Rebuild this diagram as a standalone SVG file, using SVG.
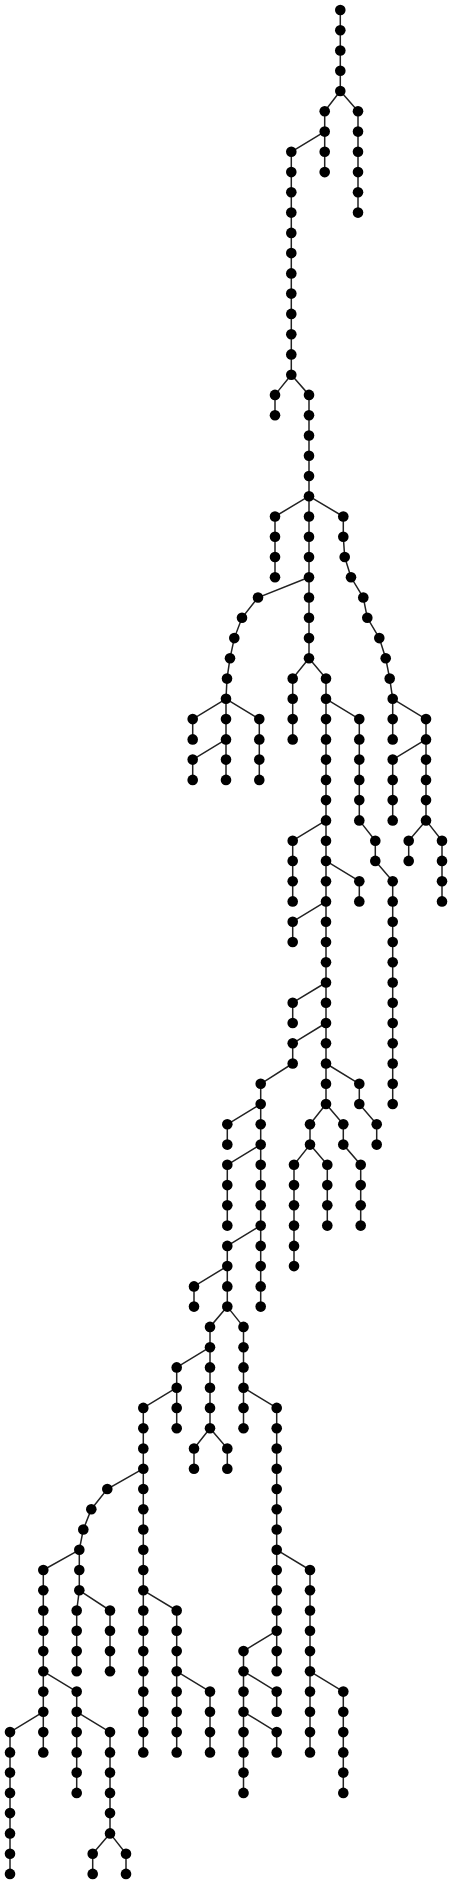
<svg xmlns="http://www.w3.org/2000/svg" xmlns:xlink="http://www.w3.org/1999/xlink" width="452" height="1885" viewBox="0 0 452 1885">
<style>
.edges path{fill:none;stroke:#222;stroke-width:1.5}
.dot{fill:#000}
</style>
<defs><circle id="d" class="dot" cx="0" cy="0" r="5.3"/></defs>
<rect width="452" height="1885" fill="#fff"/>
<g class="edges" id="connectors">
<path d="M340.3 10V91M340.3 91L324.7 111.3M340.3 91L358 111.3"/>
<path d="M324.7 111.3V172.1M324.7 131.6L291.3 151.8M358 111.3V212.6"/>
<path d="M291.3 151.8V374.7M291.3 374.7L275 394.9V415.2M291.3 374.7L309 394.9V496.2"/>
<path d="M309 496.2L275 516.5V577.3M309 496.2V658.3"/>
<path d="M309 496.2L343.3 516.5L343.3 536.8L344.7 557L351 577.3L363.3 597.5L367.3 617.8L379.3 638.1L385.7 658.3L389.7 678.6L392.7 698.8"/>
<path d="M309 577.3L258 597.5L242 617.8L234.3 638.1L230 658.3L227 678.6L226 698.8"/>
<path d="M226 698.8L192.7 719.1V739.4M226 698.8V779.9M226 739.4L192.7 759.6V779.9M226 698.8L259.3 719.1V779.9"/>
<path d="M392.7 698.8V739.4M392.7 698.8L426 719.1V820.4M426 739.4L392.7 759.6V820.4M426 820.4L408.7 840.7V860.9M426 820.4L442 840.7V901.4"/>
<path d="M309 658.3L292.7 678.6V739.4M309 658.3L326 678.6V1104"/>
<path d="M326 698.8L359.3 719.1V820.4M359.3 820.4L375.3 840.7V860.9L392.7 881.2V1104"/>
<path d="M326 820.4L292.7 840.7V901.4M326 860.9L359.3 881.2V901.4M326 901.4L292.7 921.7V942M326 982.5L292.7 1002.7V1023"/>
<path d="M326 1023L292.7 1043.3V1063.5L260.7 1083.8V1306.6"/>
<path d="M326 1063.5L359.3 1083.8V1104L376.7 1124.3V1144.6"/>
<path d="M326 1104L310 1124.3V1144.6M326 1104L343.3 1124.3V1144.6L360.7 1164.8V1225.6"/>
<path d="M310 1144.6L294 1164.8V1266.1M310 1144.6L327.3 1164.8V1225.6"/>
<path d="M260.7 1104L227.3 1124.3V1144.6M260.7 1144.6L227.3 1164.8V1225.6M260.7 1225.6L227.3 1245.9V1306.6"/>
<path d="M227.3 1266.1L194 1286.4V1306.6M227.3 1306.6L210 1326.9V1428.2M227.3 1306.6L243.5 1326.9V1428.2"/>
<path d="M210 1347.2L176.7 1367.4V1428.2M210 1428.2L194 1448.5V1468.7M210 1428.2L227.3 1448.5V1468.7"/>
<path d="M176.7 1387.7L143.3 1407.9V1752.4M243.5 1387.7L276.7 1407.9V1671.3"/>
<path d="M143.3 1468.7L107.3 1489L91.3 1509.2L83.3 1529.5L79.3 1549.8V1590.3"/>
<path d="M79.3 1549.8L43.3 1570V1752.4M79.3 1590.3L76.7 1610.5V1671.3M79.3 1590.3L110 1610.5V1671.3"/>
<path d="M43.3 1671.3L76.7 1691.6V1792.9M43.3 1711.8L10 1732.1V1873.9M76.7 1711.8L110 1732.1V1833.4M110 1833.4L92.7 1853.7V1873.9M110 1833.4L126 1853.7V1873.9"/>
<path d="M143.3 1590.3L176.7 1610.5V1752.4M176.7 1671.3L210 1691.6V1752.4"/>
<path d="M276.7 1549.8L310 1570V1752.4M310 1671.3L343.3 1691.6V1792.9"/>
<path d="M276.7 1630.8L243.5 1651.1V1792.9M243.5 1671.3L276.7 1691.6V1711.8M243.5 1711.8L276.7 1732.1V1752.4"/>
</g>
<g id="nodes">
<g id="n1"><use xlink:href="#d" x="340.3" y="10"/></g>
<g id="n2"><use xlink:href="#d" x="340.3" y="30.3"/></g>
<g id="n3"><use xlink:href="#d" x="340.3" y="50.5"/></g>
<g id="n4"><use xlink:href="#d" x="340.3" y="70.8"/></g>
<g id="n5"><use xlink:href="#d" x="340.3" y="91"/></g>
<g id="n6"><use xlink:href="#d" x="324.7" y="111.3"/></g>
<g id="n7"><use xlink:href="#d" x="324.7" y="131.6"/></g>
<g id="n8"><use xlink:href="#d" x="324.7" y="151.8"/></g>
<g id="n9"><use xlink:href="#d" x="324.7" y="172.1"/></g>
<g id="n10"><use xlink:href="#d" x="358" y="111.3"/></g>
<g id="n11"><use xlink:href="#d" x="358" y="131.6"/></g>
<g id="n12"><use xlink:href="#d" x="358" y="151.8"/></g>
<g id="n13"><use xlink:href="#d" x="358" y="172.1"/></g>
<g id="n14"><use xlink:href="#d" x="358" y="192.3"/></g>
<g id="n15"><use xlink:href="#d" x="358" y="212.6"/></g>
<g id="n16"><use xlink:href="#d" x="291.3" y="151.8"/></g>
<g id="n17"><use xlink:href="#d" x="291.3" y="172.1"/></g>
<g id="n18"><use xlink:href="#d" x="291.3" y="192.3"/></g>
<g id="n19"><use xlink:href="#d" x="291.3" y="212.6"/></g>
<g id="n20"><use xlink:href="#d" x="291.3" y="232.9"/></g>
<g id="n21"><use xlink:href="#d" x="291.3" y="253.1"/></g>
<g id="n22"><use xlink:href="#d" x="291.3" y="273.4"/></g>
<g id="n23"><use xlink:href="#d" x="291.3" y="293.6"/></g>
<g id="n24"><use xlink:href="#d" x="291.3" y="313.9"/></g>
<g id="n25"><use xlink:href="#d" x="291.3" y="334.2"/></g>
<g id="n26"><use xlink:href="#d" x="291.3" y="354.4"/></g>
<g id="n27"><use xlink:href="#d" x="291.3" y="374.7"/></g>
<g id="n28"><use xlink:href="#d" x="275" y="394.9"/></g>
<g id="n29"><use xlink:href="#d" x="275" y="415.2"/></g>
<g id="n30"><use xlink:href="#d" x="309" y="394.9"/></g>
<g id="n31"><use xlink:href="#d" x="309" y="415.2"/></g>
<g id="n32"><use xlink:href="#d" x="309" y="435.5"/></g>
<g id="n33"><use xlink:href="#d" x="309" y="455.7"/></g>
<g id="n34"><use xlink:href="#d" x="309" y="476"/></g>
<g id="n35"><use xlink:href="#d" x="309" y="496.2"/></g>
<g id="n36"><use xlink:href="#d" x="309" y="516.5"/></g>
<g id="n37"><use xlink:href="#d" x="309" y="536.8"/></g>
<g id="n38"><use xlink:href="#d" x="309" y="557"/></g>
<g id="n39"><use xlink:href="#d" x="309" y="577.3"/></g>
<g id="n40"><use xlink:href="#d" x="309" y="597.5"/></g>
<g id="n41"><use xlink:href="#d" x="309" y="617.8"/></g>
<g id="n42"><use xlink:href="#d" x="309" y="638.1"/></g>
<g id="n43"><use xlink:href="#d" x="309" y="658.3"/></g>
<g id="n44"><use xlink:href="#d" x="275" y="516.5"/></g>
<g id="n45"><use xlink:href="#d" x="275" y="536.8"/></g>
<g id="n46"><use xlink:href="#d" x="275" y="557"/></g>
<g id="n47"><use xlink:href="#d" x="275" y="577.3"/></g>
<g id="n48"><use xlink:href="#d" x="343.3" y="516.5"/></g>
<g id="n49"><use xlink:href="#d" x="343.3" y="536.8"/></g>
<g id="n50"><use xlink:href="#d" x="344.7" y="557"/></g>
<g id="n51"><use xlink:href="#d" x="351" y="577.3"/></g>
<g id="n52"><use xlink:href="#d" x="363.3" y="597.5"/></g>
<g id="n53"><use xlink:href="#d" x="367.3" y="617.8"/></g>
<g id="n54"><use xlink:href="#d" x="379.3" y="638.1"/></g>
<g id="n55"><use xlink:href="#d" x="385.7" y="658.3"/></g>
<g id="n56"><use xlink:href="#d" x="389.7" y="678.6"/></g>
<g id="n57"><use xlink:href="#d" x="392.7" y="698.8"/></g>
<g id="n58"><use xlink:href="#d" x="258" y="597.5"/></g>
<g id="n59"><use xlink:href="#d" x="242" y="617.8"/></g>
<g id="n60"><use xlink:href="#d" x="234.3" y="638.1"/></g>
<g id="n61"><use xlink:href="#d" x="230" y="658.3"/></g>
<g id="n62"><use xlink:href="#d" x="227" y="678.6"/></g>
<g id="n63"><use xlink:href="#d" x="226" y="698.8"/></g>
<g id="n64"><use xlink:href="#d" x="192.7" y="719.1"/></g>
<g id="n65"><use xlink:href="#d" x="192.7" y="739.4"/></g>
<g id="n66"><use xlink:href="#d" x="226" y="719.1"/></g>
<g id="n67"><use xlink:href="#d" x="226" y="739.4"/></g>
<g id="n68"><use xlink:href="#d" x="226" y="759.6"/></g>
<g id="n69"><use xlink:href="#d" x="226" y="779.9"/></g>
<g id="n70"><use xlink:href="#d" x="192.7" y="759.6"/></g>
<g id="n71"><use xlink:href="#d" x="192.7" y="779.9"/></g>
<g id="n72"><use xlink:href="#d" x="259.3" y="719.1"/></g>
<g id="n73"><use xlink:href="#d" x="259.3" y="739.4"/></g>
<g id="n74"><use xlink:href="#d" x="259.3" y="759.6"/></g>
<g id="n75"><use xlink:href="#d" x="259.3" y="779.9"/></g>
<g id="n76"><use xlink:href="#d" x="392.7" y="719.1"/></g>
<g id="n77"><use xlink:href="#d" x="392.7" y="739.4"/></g>
<g id="n78"><use xlink:href="#d" x="426" y="719.1"/></g>
<g id="n79"><use xlink:href="#d" x="426" y="739.4"/></g>
<g id="n80"><use xlink:href="#d" x="426" y="759.6"/></g>
<g id="n81"><use xlink:href="#d" x="426" y="779.9"/></g>
<g id="n82"><use xlink:href="#d" x="426" y="800.1"/></g>
<g id="n83"><use xlink:href="#d" x="426" y="820.4"/></g>
<g id="n84"><use xlink:href="#d" x="392.7" y="759.6"/></g>
<g id="n85"><use xlink:href="#d" x="392.7" y="779.9"/></g>
<g id="n86"><use xlink:href="#d" x="392.7" y="800.1"/></g>
<g id="n87"><use xlink:href="#d" x="392.7" y="820.4"/></g>
<g id="n88"><use xlink:href="#d" x="408.7" y="840.7"/></g>
<g id="n89"><use xlink:href="#d" x="408.7" y="860.9"/></g>
<g id="n90"><use xlink:href="#d" x="442" y="840.7"/></g>
<g id="n91"><use xlink:href="#d" x="442" y="860.9"/></g>
<g id="n92"><use xlink:href="#d" x="442" y="881.2"/></g>
<g id="n93"><use xlink:href="#d" x="442" y="901.4"/></g>
<g id="n94"><use xlink:href="#d" x="292.7" y="678.6"/></g>
<g id="n95"><use xlink:href="#d" x="292.7" y="698.8"/></g>
<g id="n96"><use xlink:href="#d" x="292.7" y="719.1"/></g>
<g id="n97"><use xlink:href="#d" x="292.7" y="739.4"/></g>
<g id="n98"><use xlink:href="#d" x="326" y="678.6"/></g>
<g id="n99"><use xlink:href="#d" x="326" y="698.8"/></g>
<g id="n100"><use xlink:href="#d" x="326" y="719.1"/></g>
<g id="n101"><use xlink:href="#d" x="326" y="739.4"/></g>
<g id="n102"><use xlink:href="#d" x="326" y="759.6"/></g>
<g id="n103"><use xlink:href="#d" x="326" y="779.9"/></g>
<g id="n104"><use xlink:href="#d" x="326" y="800.1"/></g>
<g id="n105"><use xlink:href="#d" x="326" y="820.4"/></g>
<g id="n106"><use xlink:href="#d" x="326" y="840.7"/></g>
<g id="n107"><use xlink:href="#d" x="326" y="860.9"/></g>
<g id="n108"><use xlink:href="#d" x="326" y="881.2"/></g>
<g id="n109"><use xlink:href="#d" x="326" y="901.4"/></g>
<g id="n110"><use xlink:href="#d" x="326" y="921.7"/></g>
<g id="n111"><use xlink:href="#d" x="326" y="942"/></g>
<g id="n112"><use xlink:href="#d" x="326" y="962.2"/></g>
<g id="n113"><use xlink:href="#d" x="326" y="982.5"/></g>
<g id="n114"><use xlink:href="#d" x="326" y="1002.7"/></g>
<g id="n115"><use xlink:href="#d" x="326" y="1023"/></g>
<g id="n116"><use xlink:href="#d" x="326" y="1043.3"/></g>
<g id="n117"><use xlink:href="#d" x="326" y="1063.5"/></g>
<g id="n118"><use xlink:href="#d" x="326" y="1083.8"/></g>
<g id="n119"><use xlink:href="#d" x="326" y="1104"/></g>
<g id="n120"><use xlink:href="#d" x="359.3" y="719.1"/></g>
<g id="n121"><use xlink:href="#d" x="359.3" y="739.4"/></g>
<g id="n122"><use xlink:href="#d" x="359.3" y="759.6"/></g>
<g id="n123"><use xlink:href="#d" x="359.3" y="779.9"/></g>
<g id="n124"><use xlink:href="#d" x="359.3" y="800.1"/></g>
<g id="n125"><use xlink:href="#d" x="359.3" y="820.4"/></g>
<g id="n126"><use xlink:href="#d" x="375.3" y="840.7"/></g>
<g id="n127"><use xlink:href="#d" x="375.3" y="860.9"/></g>
<g id="n128"><use xlink:href="#d" x="392.7" y="881.2"/></g>
<g id="n129"><use xlink:href="#d" x="392.7" y="901.4"/></g>
<g id="n130"><use xlink:href="#d" x="392.7" y="921.7"/></g>
<g id="n131"><use xlink:href="#d" x="392.7" y="942"/></g>
<g id="n132"><use xlink:href="#d" x="392.7" y="962.2"/></g>
<g id="n133"><use xlink:href="#d" x="392.7" y="982.5"/></g>
<g id="n134"><use xlink:href="#d" x="392.7" y="1002.7"/></g>
<g id="n135"><use xlink:href="#d" x="392.7" y="1023"/></g>
<g id="n136"><use xlink:href="#d" x="392.7" y="1043.3"/></g>
<g id="n137"><use xlink:href="#d" x="392.7" y="1063.5"/></g>
<g id="n138"><use xlink:href="#d" x="392.7" y="1083.8"/></g>
<g id="n139"><use xlink:href="#d" x="392.7" y="1104"/></g>
<g id="n140"><use xlink:href="#d" x="292.7" y="840.7"/></g>
<g id="n141"><use xlink:href="#d" x="292.7" y="860.9"/></g>
<g id="n142"><use xlink:href="#d" x="292.7" y="881.2"/></g>
<g id="n143"><use xlink:href="#d" x="292.7" y="901.4"/></g>
<g id="n144"><use xlink:href="#d" x="359.3" y="881.2"/></g>
<g id="n145"><use xlink:href="#d" x="359.3" y="901.4"/></g>
<g id="n146"><use xlink:href="#d" x="292.7" y="921.7"/></g>
<g id="n147"><use xlink:href="#d" x="292.7" y="942"/></g>
<g id="n148"><use xlink:href="#d" x="292.7" y="1002.7"/></g>
<g id="n149"><use xlink:href="#d" x="292.7" y="1023"/></g>
<g id="n150"><use xlink:href="#d" x="292.7" y="1043.3"/></g>
<g id="n151"><use xlink:href="#d" x="292.7" y="1063.5"/></g>
<g id="n152"><use xlink:href="#d" x="260.7" y="1083.8"/></g>
<g id="n153"><use xlink:href="#d" x="260.7" y="1104"/></g>
<g id="n154"><use xlink:href="#d" x="260.7" y="1124.3"/></g>
<g id="n155"><use xlink:href="#d" x="260.7" y="1144.6"/></g>
<g id="n156"><use xlink:href="#d" x="260.7" y="1164.8"/></g>
<g id="n157"><use xlink:href="#d" x="260.7" y="1185.1"/></g>
<g id="n158"><use xlink:href="#d" x="260.7" y="1205.3"/></g>
<g id="n159"><use xlink:href="#d" x="260.7" y="1225.6"/></g>
<g id="n160"><use xlink:href="#d" x="260.7" y="1245.9"/></g>
<g id="n161"><use xlink:href="#d" x="260.7" y="1266.1"/></g>
<g id="n162"><use xlink:href="#d" x="260.7" y="1286.4"/></g>
<g id="n163"><use xlink:href="#d" x="260.7" y="1306.6"/></g>
<g id="n164"><use xlink:href="#d" x="359.3" y="1083.8"/></g>
<g id="n165"><use xlink:href="#d" x="359.3" y="1104"/></g>
<g id="n166"><use xlink:href="#d" x="376.7" y="1124.3"/></g>
<g id="n167"><use xlink:href="#d" x="376.7" y="1144.6"/></g>
<g id="n168"><use xlink:href="#d" x="310" y="1124.3"/></g>
<g id="n169"><use xlink:href="#d" x="310" y="1144.6"/></g>
<g id="n170"><use xlink:href="#d" x="343.3" y="1124.3"/></g>
<g id="n171"><use xlink:href="#d" x="343.3" y="1144.6"/></g>
<g id="n172"><use xlink:href="#d" x="360.7" y="1164.8"/></g>
<g id="n173"><use xlink:href="#d" x="360.7" y="1185.1"/></g>
<g id="n174"><use xlink:href="#d" x="360.7" y="1205.3"/></g>
<g id="n175"><use xlink:href="#d" x="360.7" y="1225.6"/></g>
<g id="n176"><use xlink:href="#d" x="294" y="1164.8"/></g>
<g id="n177"><use xlink:href="#d" x="294" y="1185.1"/></g>
<g id="n178"><use xlink:href="#d" x="294" y="1205.3"/></g>
<g id="n179"><use xlink:href="#d" x="294" y="1225.6"/></g>
<g id="n180"><use xlink:href="#d" x="294" y="1245.9"/></g>
<g id="n181"><use xlink:href="#d" x="294" y="1266.1"/></g>
<g id="n182"><use xlink:href="#d" x="327.3" y="1164.8"/></g>
<g id="n183"><use xlink:href="#d" x="327.3" y="1185.1"/></g>
<g id="n184"><use xlink:href="#d" x="327.3" y="1205.3"/></g>
<g id="n185"><use xlink:href="#d" x="327.3" y="1225.6"/></g>
<g id="n186"><use xlink:href="#d" x="227.3" y="1124.3"/></g>
<g id="n187"><use xlink:href="#d" x="227.3" y="1144.6"/></g>
<g id="n188"><use xlink:href="#d" x="227.3" y="1164.8"/></g>
<g id="n189"><use xlink:href="#d" x="227.3" y="1185.1"/></g>
<g id="n190"><use xlink:href="#d" x="227.3" y="1205.3"/></g>
<g id="n191"><use xlink:href="#d" x="227.3" y="1225.6"/></g>
<g id="n192"><use xlink:href="#d" x="227.3" y="1245.9"/></g>
<g id="n193"><use xlink:href="#d" x="227.3" y="1266.1"/></g>
<g id="n194"><use xlink:href="#d" x="227.3" y="1286.4"/></g>
<g id="n195"><use xlink:href="#d" x="227.3" y="1306.6"/></g>
<g id="n196"><use xlink:href="#d" x="194" y="1286.4"/></g>
<g id="n197"><use xlink:href="#d" x="194" y="1306.6"/></g>
<g id="n198"><use xlink:href="#d" x="210" y="1326.9"/></g>
<g id="n199"><use xlink:href="#d" x="210" y="1347.2"/></g>
<g id="n200"><use xlink:href="#d" x="210" y="1367.4"/></g>
<g id="n201"><use xlink:href="#d" x="210" y="1387.7"/></g>
<g id="n202"><use xlink:href="#d" x="210" y="1407.9"/></g>
<g id="n203"><use xlink:href="#d" x="210" y="1428.2"/></g>
<g id="n204"><use xlink:href="#d" x="243.5" y="1326.9"/></g>
<g id="n205"><use xlink:href="#d" x="243.5" y="1347.2"/></g>
<g id="n206"><use xlink:href="#d" x="243.5" y="1367.4"/></g>
<g id="n207"><use xlink:href="#d" x="243.5" y="1387.7"/></g>
<g id="n208"><use xlink:href="#d" x="243.5" y="1407.9"/></g>
<g id="n209"><use xlink:href="#d" x="243.5" y="1428.2"/></g>
<g id="n210"><use xlink:href="#d" x="176.7" y="1367.4"/></g>
<g id="n211"><use xlink:href="#d" x="176.7" y="1387.7"/></g>
<g id="n212"><use xlink:href="#d" x="176.7" y="1407.9"/></g>
<g id="n213"><use xlink:href="#d" x="176.7" y="1428.2"/></g>
<g id="n214"><use xlink:href="#d" x="194" y="1448.5"/></g>
<g id="n215"><use xlink:href="#d" x="194" y="1468.7"/></g>
<g id="n216"><use xlink:href="#d" x="227.3" y="1448.5"/></g>
<g id="n217"><use xlink:href="#d" x="227.3" y="1468.7"/></g>
<g id="n218"><use xlink:href="#d" x="143.3" y="1407.9"/></g>
<g id="n219"><use xlink:href="#d" x="143.3" y="1428.2"/></g>
<g id="n220"><use xlink:href="#d" x="143.3" y="1448.5"/></g>
<g id="n221"><use xlink:href="#d" x="143.3" y="1468.7"/></g>
<g id="n222"><use xlink:href="#d" x="143.3" y="1489"/></g>
<g id="n223"><use xlink:href="#d" x="143.3" y="1509.2"/></g>
<g id="n224"><use xlink:href="#d" x="143.3" y="1529.5"/></g>
<g id="n225"><use xlink:href="#d" x="143.3" y="1549.8"/></g>
<g id="n226"><use xlink:href="#d" x="143.3" y="1570"/></g>
<g id="n227"><use xlink:href="#d" x="143.3" y="1590.3"/></g>
<g id="n228"><use xlink:href="#d" x="143.3" y="1610.5"/></g>
<g id="n229"><use xlink:href="#d" x="143.3" y="1630.8"/></g>
<g id="n230"><use xlink:href="#d" x="143.3" y="1651.1"/></g>
<g id="n231"><use xlink:href="#d" x="143.3" y="1671.3"/></g>
<g id="n232"><use xlink:href="#d" x="143.3" y="1691.6"/></g>
<g id="n233"><use xlink:href="#d" x="143.3" y="1711.8"/></g>
<g id="n234"><use xlink:href="#d" x="143.3" y="1732.1"/></g>
<g id="n235"><use xlink:href="#d" x="143.3" y="1752.4"/></g>
<g id="n236"><use xlink:href="#d" x="276.7" y="1407.9"/></g>
<g id="n237"><use xlink:href="#d" x="276.7" y="1428.2"/></g>
<g id="n238"><use xlink:href="#d" x="276.7" y="1448.5"/></g>
<g id="n239"><use xlink:href="#d" x="276.7" y="1468.7"/></g>
<g id="n240"><use xlink:href="#d" x="276.7" y="1489"/></g>
<g id="n241"><use xlink:href="#d" x="276.7" y="1509.2"/></g>
<g id="n242"><use xlink:href="#d" x="276.7" y="1529.5"/></g>
<g id="n243"><use xlink:href="#d" x="276.7" y="1549.8"/></g>
<g id="n244"><use xlink:href="#d" x="276.7" y="1570"/></g>
<g id="n245"><use xlink:href="#d" x="276.7" y="1590.3"/></g>
<g id="n246"><use xlink:href="#d" x="276.7" y="1610.5"/></g>
<g id="n247"><use xlink:href="#d" x="276.7" y="1630.8"/></g>
<g id="n248"><use xlink:href="#d" x="276.7" y="1651.1"/></g>
<g id="n249"><use xlink:href="#d" x="276.7" y="1671.3"/></g>
<g id="n250"><use xlink:href="#d" x="107.3" y="1489"/></g>
<g id="n251"><use xlink:href="#d" x="91.3" y="1509.2"/></g>
<g id="n252"><use xlink:href="#d" x="83.3" y="1529.5"/></g>
<g id="n253"><use xlink:href="#d" x="79.3" y="1549.8"/></g>
<g id="n254"><use xlink:href="#d" x="79.3" y="1570"/></g>
<g id="n255"><use xlink:href="#d" x="79.3" y="1590.3"/></g>
<g id="n256"><use xlink:href="#d" x="43.3" y="1570"/></g>
<g id="n257"><use xlink:href="#d" x="43.3" y="1590.3"/></g>
<g id="n258"><use xlink:href="#d" x="43.3" y="1610.5"/></g>
<g id="n259"><use xlink:href="#d" x="43.3" y="1630.8"/></g>
<g id="n260"><use xlink:href="#d" x="43.3" y="1651.1"/></g>
<g id="n261"><use xlink:href="#d" x="43.3" y="1671.3"/></g>
<g id="n262"><use xlink:href="#d" x="43.3" y="1691.6"/></g>
<g id="n263"><use xlink:href="#d" x="43.3" y="1711.8"/></g>
<g id="n264"><use xlink:href="#d" x="43.3" y="1732.1"/></g>
<g id="n265"><use xlink:href="#d" x="43.3" y="1752.4"/></g>
<g id="n266"><use xlink:href="#d" x="76.7" y="1610.5"/></g>
<g id="n267"><use xlink:href="#d" x="76.7" y="1630.8"/></g>
<g id="n268"><use xlink:href="#d" x="76.7" y="1651.1"/></g>
<g id="n269"><use xlink:href="#d" x="76.7" y="1671.3"/></g>
<g id="n270"><use xlink:href="#d" x="110" y="1610.5"/></g>
<g id="n271"><use xlink:href="#d" x="110" y="1630.8"/></g>
<g id="n272"><use xlink:href="#d" x="110" y="1651.1"/></g>
<g id="n273"><use xlink:href="#d" x="110" y="1671.3"/></g>
<g id="n274"><use xlink:href="#d" x="76.7" y="1691.6"/></g>
<g id="n275"><use xlink:href="#d" x="76.7" y="1711.8"/></g>
<g id="n276"><use xlink:href="#d" x="76.7" y="1732.1"/></g>
<g id="n277"><use xlink:href="#d" x="76.7" y="1752.4"/></g>
<g id="n278"><use xlink:href="#d" x="76.7" y="1772.6"/></g>
<g id="n279"><use xlink:href="#d" x="76.7" y="1792.9"/></g>
<g id="n280"><use xlink:href="#d" x="10" y="1732.1"/></g>
<g id="n281"><use xlink:href="#d" x="10" y="1752.4"/></g>
<g id="n282"><use xlink:href="#d" x="10" y="1772.6"/></g>
<g id="n283"><use xlink:href="#d" x="10" y="1792.9"/></g>
<g id="n284"><use xlink:href="#d" x="10" y="1813.1"/></g>
<g id="n285"><use xlink:href="#d" x="10" y="1833.4"/></g>
<g id="n286"><use xlink:href="#d" x="10" y="1853.7"/></g>
<g id="n287"><use xlink:href="#d" x="10" y="1873.9"/></g>
<g id="n288"><use xlink:href="#d" x="110" y="1732.1"/></g>
<g id="n289"><use xlink:href="#d" x="110" y="1752.4"/></g>
<g id="n290"><use xlink:href="#d" x="110" y="1772.6"/></g>
<g id="n291"><use xlink:href="#d" x="110" y="1792.9"/></g>
<g id="n292"><use xlink:href="#d" x="110" y="1813.1"/></g>
<g id="n293"><use xlink:href="#d" x="110" y="1833.4"/></g>
<g id="n294"><use xlink:href="#d" x="92.7" y="1853.7"/></g>
<g id="n295"><use xlink:href="#d" x="92.7" y="1873.9"/></g>
<g id="n296"><use xlink:href="#d" x="126" y="1853.7"/></g>
<g id="n297"><use xlink:href="#d" x="126" y="1873.9"/></g>
<g id="n298"><use xlink:href="#d" x="176.7" y="1610.5"/></g>
<g id="n299"><use xlink:href="#d" x="176.7" y="1630.8"/></g>
<g id="n300"><use xlink:href="#d" x="176.7" y="1651.1"/></g>
<g id="n301"><use xlink:href="#d" x="176.7" y="1671.3"/></g>
<g id="n302"><use xlink:href="#d" x="176.7" y="1691.6"/></g>
<g id="n303"><use xlink:href="#d" x="176.7" y="1711.8"/></g>
<g id="n304"><use xlink:href="#d" x="176.7" y="1732.1"/></g>
<g id="n305"><use xlink:href="#d" x="176.7" y="1752.4"/></g>
<g id="n306"><use xlink:href="#d" x="210" y="1691.6"/></g>
<g id="n307"><use xlink:href="#d" x="210" y="1711.8"/></g>
<g id="n308"><use xlink:href="#d" x="210" y="1732.1"/></g>
<g id="n309"><use xlink:href="#d" x="210" y="1752.4"/></g>
<g id="n310"><use xlink:href="#d" x="310" y="1570"/></g>
<g id="n311"><use xlink:href="#d" x="310" y="1590.3"/></g>
<g id="n312"><use xlink:href="#d" x="310" y="1610.5"/></g>
<g id="n313"><use xlink:href="#d" x="310" y="1630.8"/></g>
<g id="n314"><use xlink:href="#d" x="310" y="1651.1"/></g>
<g id="n315"><use xlink:href="#d" x="310" y="1671.3"/></g>
<g id="n316"><use xlink:href="#d" x="310" y="1691.6"/></g>
<g id="n317"><use xlink:href="#d" x="310" y="1711.8"/></g>
<g id="n318"><use xlink:href="#d" x="310" y="1732.1"/></g>
<g id="n319"><use xlink:href="#d" x="310" y="1752.4"/></g>
<g id="n320"><use xlink:href="#d" x="343.3" y="1691.6"/></g>
<g id="n321"><use xlink:href="#d" x="343.3" y="1711.8"/></g>
<g id="n322"><use xlink:href="#d" x="343.3" y="1732.1"/></g>
<g id="n323"><use xlink:href="#d" x="343.3" y="1752.4"/></g>
<g id="n324"><use xlink:href="#d" x="343.3" y="1772.6"/></g>
<g id="n325"><use xlink:href="#d" x="343.3" y="1792.9"/></g>
<g id="n326"><use xlink:href="#d" x="243.5" y="1651.1"/></g>
<g id="n327"><use xlink:href="#d" x="243.5" y="1671.3"/></g>
<g id="n328"><use xlink:href="#d" x="243.5" y="1691.6"/></g>
<g id="n329"><use xlink:href="#d" x="243.5" y="1711.8"/></g>
<g id="n330"><use xlink:href="#d" x="243.5" y="1732.1"/></g>
<g id="n331"><use xlink:href="#d" x="243.5" y="1752.4"/></g>
<g id="n332"><use xlink:href="#d" x="243.5" y="1772.6"/></g>
<g id="n333"><use xlink:href="#d" x="243.5" y="1792.9"/></g>
<g id="n334"><use xlink:href="#d" x="276.7" y="1691.6"/></g>
<g id="n335"><use xlink:href="#d" x="276.7" y="1711.8"/></g>
<g id="n336"><use xlink:href="#d" x="276.7" y="1732.1"/></g>
<g id="n337"><use xlink:href="#d" x="276.7" y="1752.4"/></g>
</g>
</svg>
